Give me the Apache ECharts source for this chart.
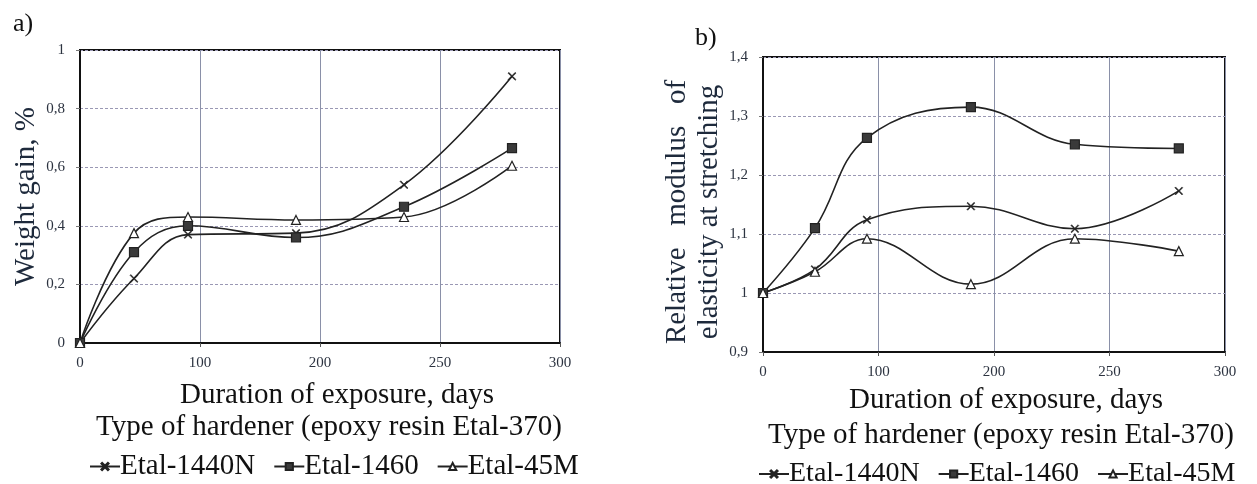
<!DOCTYPE html>
<html>
<head>
<meta charset="utf-8">
<script src="https://cdn.jsdelivr.net/npm/echarts@6/dist/echarts.min.js"></script>
<style>
  html, body { margin: 0; padding: 0; background: #fff; }
  #main { width: 1257px; height: 484px; }
</style>
</head>
<body>
<div id="main"></div>
<script>
// exposure time, days (the printed tick labels are 0,100,200,250,300 on evenly spaced ticks)
var xDays = [0, 45, 90, 180, 270, 360];
var xTickLabels = ['0', '100', '200', '250', '300'];
var gainTickLabels = ['0', '0,2', '0,4', '0,6', '0,8', '1'];
var modTickLabels = ['0,9', '1', '1,1', '1,2', '1,3', '1,4'];

var seriesNames = ['Etal-1440N', 'Etal-1460', 'Etal-45M'];

// a) weight gain, %
var gain1440N = [0, 0.22, 0.37, 0.375, 0.54, 0.91];
var gain1460 = [0, 0.31, 0.40, 0.36, 0.465, 0.665];
var gain45M = [0, 0.375, 0.43, 0.42, 0.43, 0.605];

// b) relative modulus of elasticity
var mod1440N = [1, 1.04, 1.124, 1.147, 1.109, 1.173];
var mod1460 = [1, 1.11, 1.263, 1.315, 1.252, 1.245];
var mod45M = [1, 1.036, 1.092, 1.015, 1.092, 1.071];

var myChart = echarts.init(document.getElementById('main'));

var serif = '"Liberation Serif", "DejaVu Serif", serif';
var crossIcon = 'path://M0,1L1,0L5,4L9,0L10,1L6,5L10,9L9,10L5,6L1,10L0,9L4,5Z';
var symbols = [crossIcon, 'rect', 'triangle'];
var symbolFill = ['#222', '#3a3a3a', '#fff'];

function pairs(ys) {
  return xDays.map(function (x, i) { return [x, ys[i]]; });
}

function makeSeries(idx, values, axisIdx) {
  return {
    name: seriesNames[idx],
    type: 'line',
    xAxisIndex: axisIdx,
    yAxisIndex: axisIdx,
    data: pairs(values),
    smooth: 0.4,
    symbol: symbols[idx],
    symbolSize: idx === 0 ? 8 : 9,
    showAllSymbol: true,
    lineStyle: { color: '#222', width: 1.6 },
    itemStyle: { color: symbolFill[idx], borderColor: '#222', borderWidth: idx === 0 ? 0.5 : 1.2 },
    emphasis: { disabled: true },
    z: 5
  };
}

function xAxisFor(gridIdx, nameGap, pad) {
  return {
    type: 'value',
    gridIndex: gridIdx,
    min: 0, max: 400, interval: 100,
    name: 'Duration of exposure, days',
    nameLocation: 'middle',
    nameGap: nameGap,
    nameTextStyle: { fontFamily: serif, fontSize: 29, color: '#111', padding: pad },
    axisLine: { lineStyle: { color: '#111', width: 2 } },
    axisTick: { show: true, length: 4, lineStyle: { color: '#555' } },
    axisLabel: {
      fontFamily: serif, fontSize: 15, color: '#2c3340', margin: 13,
      formatter: function (v) { return xTickLabels[Math.round(v / 100)]; }
    },
    splitLine: { show: true, lineStyle: { color: '#8a90a8', width: 1 } }
  };
}

function yAxisFor(gridIdx, min, max, step, labels, name, nameGap, pad) {
  return {
    type: 'value',
    gridIndex: gridIdx,
    min: min, max: max, interval: step,
    name: name,
    nameLocation: 'middle',
    nameRotate: 90,
    nameGap: nameGap,
    nameTextStyle: { fontFamily: serif, fontSize: 29, color: '#1e2a3c', lineHeight: 32, padding: pad },
    axisLine: { show: true, lineStyle: { color: '#111', width: 2 } },
    axisTick: { show: true, length: 4, lineStyle: { color: '#777' } },
    axisLabel: {
      fontFamily: serif, fontSize: 15, color: '#2c3340', margin: 15,
      formatter: function (v) { return labels[Math.round((v - min) / step)]; }
    },
    splitLine: { show: true, lineStyle: { color: '#9a98b4', width: 1, type: [3, 2] } }
  };
}

function legendFor(left, top, size) {
  return {
    left: left, top: top,
    data: seriesNames,
    itemWidth: 30, itemHeight: 9, itemGap: 18,
    textStyle: { fontFamily: serif, fontSize: size, color: '#111', padding: [0, 0, 0, -5] },
    selectedMode: false
  };
}

var option = {
  backgroundColor: '#fff',
  animation: false,
  title: [
    { text: 'a)', left: 8, top: 6, textStyle: { fontFamily: serif, fontSize: 26, fontWeight: 'normal', color: '#111' } },
    { text: 'b)', left: 690, top: 20, textStyle: { fontFamily: serif, fontSize: 26, fontWeight: 'normal', color: '#111' } }
  ],
  grid: [
    { left: 80, right: 697, top: 50, bottom: 141, show: true, borderColor: '#111', borderWidth: 2 },
    { left: 763, right: 32, top: 57, bottom: 132, show: true, borderColor: '#111', borderWidth: 2 }
  ],
  xAxis: [
    xAxisFor(0, 38, [0, 0, 0, 34]),
    xAxisFor(1, 34, [0, 0, 0, 24])
  ],
  yAxis: [
    yAxisFor(0, 0, 1, 0.2, gainTickLabels, 'Weight gain, %', 37, 0),
    yAxisFor(1, 0.9, 1.4, 0.1, modTickLabels, 'Relative   modulus   of\nelasticity at stretching', 33, [0, 15, 0, 0])
  ],
  legend: [legendFor(84, 447, 29), legendFor(753, 455, 28)],
  graphic: [
    { type: 'text', x: 329, y: 427, style: { text: 'Type of hardener (epoxy resin Etal-370)', fontFamily: serif, fontSize: 29, fill: '#111', textAlign: 'center', textVerticalAlign: 'middle' } },
    { type: 'text', x: 1001, y: 435, style: { text: 'Type of hardener (epoxy resin Etal-370)', fontFamily: serif, fontSize: 29, fill: '#111', textAlign: 'center', textVerticalAlign: 'middle' } }
  ],
  series: [
    makeSeries(0, gain1440N, 0),
    makeSeries(1, gain1460, 0),
    makeSeries(2, gain45M, 0),
    makeSeries(0, mod1440N, 1),
    makeSeries(1, mod1460, 1),
    makeSeries(2, mod45M, 1)
  ]
};

myChart.setOption(option);
</script>
</body>
</html>
